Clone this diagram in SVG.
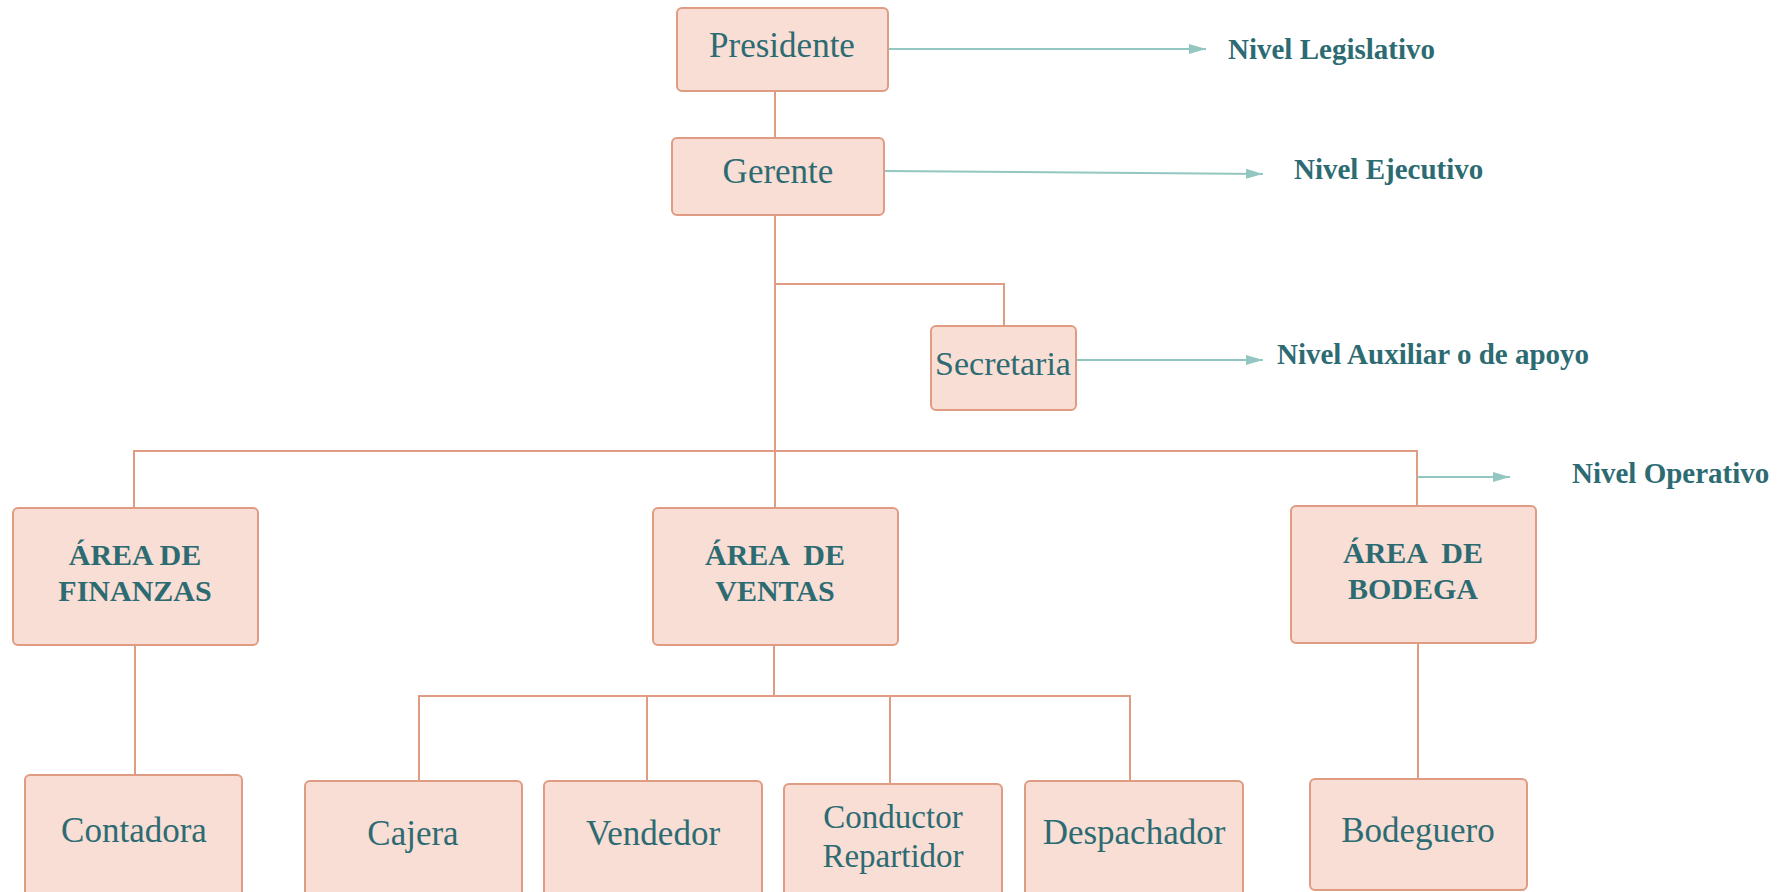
<svg xmlns="http://www.w3.org/2000/svg" width="1786" height="892" viewBox="0 0 1786 892">
  <style>
    .box { fill: #f8ded4; stroke: #df9c82; stroke-width: 2; }
    .org { fill: none; stroke: #df9c82; stroke-width: 2; }
    .lvl { fill: none; stroke: #93c6c1; stroke-width: 2; }
    .lbl { font-family: "Liberation Serif", "Times New Roman", serif; font-size: 35px; fill: #2d6b73; text-anchor: middle; }
    .area { font-family: "Liberation Serif", "Times New Roman", serif; font-size: 30px; font-weight: bold; fill: #2d6b73; text-anchor: middle; }
    .level { font-family: "Liberation Serif", "Times New Roman", serif; font-size: 29px; font-weight: bold; fill: #2d6b73; }
  </style>
  <defs>
    <marker id="tip" markerUnits="userSpaceOnUse" markerWidth="18" markerHeight="12" refX="17" refY="6" orient="auto">
      <path d="M0,1 L17,6 L0,11 Z" fill="#93c6c1"/>
    </marker>
  </defs>

  <rect width="1786" height="892" fill="#ffffff"/>

  <!-- connectors -->
  <g id="connectors">
    <path class="org" d="M775,91 V138"/>
    <path class="org" d="M775,215 V451"/>
    <path class="org" d="M775,284 H1004 V326"/>
    <path class="org" d="M134,508 V451 H1417 V506"/>
    <path class="org" d="M775,451 V508"/>
    <path class="org" d="M135,645 V775"/>
    <path class="org" d="M774,645 V696"/>
    <path class="org" d="M419,781 V696 H1130 V781"/>
    <path class="org" d="M647,696 V781"/>
    <path class="org" d="M890,696 V784"/>
    <path class="org" d="M1418,643 V779"/>
    <path class="lvl" d="M888,49 H1206" marker-end="url(#tip)"/>
    <path class="lvl" d="M884,171 L1263,174" marker-end="url(#tip)"/>
    <path class="lvl" d="M1076,360 H1263" marker-end="url(#tip)"/>
    <path class="lvl" d="M1417,477 H1510" marker-end="url(#tip)"/>
  </g>

  <!-- level labels -->
  <g id="levels">
    <text class="level" x="1228" y="59">Nivel Legislativo</text>
    <text class="level" x="1294" y="179">Nivel Ejecutivo</text>
    <text class="level" x="1277" y="364">Nivel Auxiliar o de apoyo</text>
    <text class="level" x="1572" y="483">Nivel Operativo</text>
  </g>

  <g id="presidente">
    <rect class="box" x="677" y="8" width="211" height="83" rx="5"/>
    <text class="lbl" x="782" y="57">Presidente</text>
  </g>
  <g id="gerente">
    <rect class="box" x="672" y="138" width="212" height="77" rx="5"/>
    <text class="lbl" x="778" y="183">Gerente</text>
  </g>
  <g id="secretaria">
    <rect class="box" x="931" y="326" width="145" height="84" rx="5"/>
    <text class="lbl" x="1003" y="375" style="font-size:34px">Secretaria</text>
  </g>

  <g id="area-finanzas">
    <rect class="box" x="13" y="508" width="245" height="137" rx="5"/>
    <text class="area" x="135" y="565">ÁREA DE</text>
    <text class="area" x="135" y="601">FINANZAS</text>
  </g>
  <g id="area-ventas">
    <rect class="box" x="653" y="508" width="245" height="137" rx="5"/>
    <text class="area" x="775" y="565" xml:space="preserve">ÁREA  DE</text>
    <text class="area" x="775" y="601">VENTAS</text>
  </g>
  <g id="area-bodega">
    <rect class="box" x="1291" y="506" width="245" height="137" rx="5"/>
    <text class="area" x="1413" y="563" xml:space="preserve">ÁREA  DE</text>
    <text class="area" x="1413" y="599">BODEGA</text>
  </g>

  <g id="contadora">
    <rect class="box" x="25" y="775" width="217" height="122" rx="5"/>
    <text class="lbl" x="134" y="842">Contadora</text>
  </g>
  <g id="cajera">
    <rect class="box" x="305" y="781" width="217" height="116" rx="5"/>
    <text class="lbl" x="413" y="845">Cajera</text>
  </g>
  <g id="vendedor">
    <rect class="box" x="544" y="781" width="218" height="116" rx="5"/>
    <text class="lbl" x="653" y="845">Vendedor</text>
  </g>
  <g id="conductor-repartidor">
    <rect class="box" x="784" y="784" width="218" height="113" rx="5"/>
    <text class="lbl" x="893" y="828" style="font-size:33px">Conductor</text>
    <text class="lbl" x="893" y="867" style="font-size:33px">Repartidor</text>
  </g>
  <g id="despachador">
    <rect class="box" x="1025" y="781" width="218" height="116" rx="5"/>
    <text class="lbl" x="1134" y="844">Despachador</text>
  </g>
  <g id="bodeguero">
    <rect class="box" x="1310" y="779" width="217" height="111" rx="5"/>
    <text class="lbl" x="1418" y="842">Bodeguero</text>
  </g>
</svg>
